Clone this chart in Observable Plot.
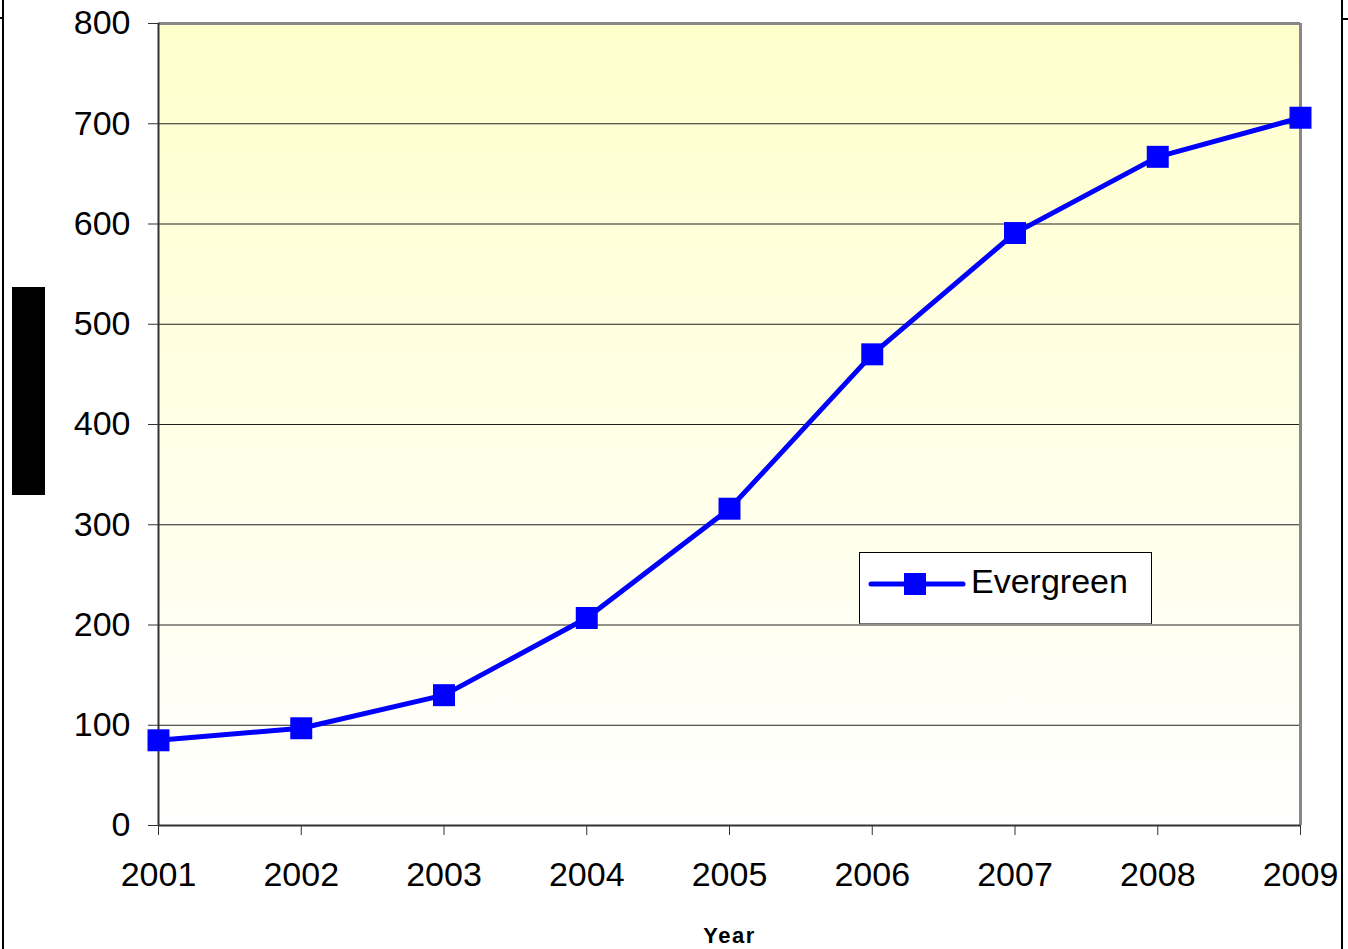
<!DOCTYPE html>
<html>
<head>
<meta charset="utf-8">
<script src="https://cdn.jsdelivr.net/npm/d3@7"></script>
<script src="https://cdn.jsdelivr.net/npm/@observablehq/plot@0.6"></script>
<style>
  body { margin: 0; background: #fff; }
  #wrap { position: relative; width: 1348px; height: 949px; overflow: hidden; font-family: "Liberation Sans", Arial, sans-serif; background: #fff; }
  #wrap svg.chart { position: absolute; left: 0; top: 0; }
  .vline { position: absolute; top: 0; width: 2px; height: 949px; background: #000; }
  .hmark { position: absolute; height: 2px; background: #000; }
  #redact { position: absolute; left: 12px; top: 287px; width: 33px; height: 208px; background: #000; }
  #legend { position: absolute; left: 859px; top: 552px; width: 291px; height: 70px; background: #fff; border: 1px solid #000; border-bottom-color: #777; }
  #legend svg { position: absolute; left: 0; top: 0; }
  #legend span { position: absolute; left: 111px; top: 8px; font-size: 34px; line-height: 40px; color: #000; }
</style>
</head>
<body>
<div id="wrap">
  <div class="vline" style="left:2px"></div>
  <div class="vline" style="left:1341px"></div>
  <div class="hmark" style="left:0;top:17px;width:3px"></div>
  <div class="hmark" style="left:1341px;top:18px;width:7px"></div>
  <div id="redact"></div>
</div>
<script>
const years = [2001, 2002, 2003, 2004, 2005, 2006, 2007, 2008, 2009];
const evergreen = [85, 97, 130, 207, 316, 470, 591, 667, 706];
const yTicks = [0, 100, 200, 300, 400, 500, 600, 700, 800];
const seriesName = "Evergreen";
const xLabel = "Year";

const data = years.map((year, i) => ({year, value: evergreen[i]}));
const font = "'Liberation Sans', Arial, sans-serif";

const chart = Plot.plot({
  width: 1348,
  height: 949,
  marginLeft: 158,
  marginRight: 48,
  marginTop: 23,
  marginBottom: 124,
  style: {fontFamily: font, fontSize: "34px", color: "#000", background: "transparent", overflow: "visible"},
  x: {type: "linear", domain: [years[0], years[years.length - 1]]},
  y: {type: "linear", domain: [yTicks[0], yTicks[yTicks.length - 1]]},
  marks: [
    Plot.frame({fill: "url(#plotBg)", stroke: "none"}),
    Plot.ruleY(yTicks.slice(1, -1), {stroke: "#222", strokeWidth: 1}),
    Plot.ruleY([yTicks[yTicks.length - 1]], {stroke: "#888", strokeWidth: 3}),
    Plot.ruleX([years[years.length - 1]], {stroke: "#888", strokeWidth: 3}),
    Plot.ruleY([yTicks[0]], {stroke: "#333", strokeWidth: 2}),
    Plot.ruleX([years[0]], {stroke: "#333", strokeWidth: 2}),
    Plot.axisY({ticks: yTicks, tickSize: 10, tickPadding: 18, tickFormat: d => String(d), label: null, stroke: "#333"}),
    Plot.axisX({ticks: years, tickSize: 10, tickPadding: 26, tickFormat: d => String(d), label: null, stroke: "#333"}),
    Plot.line(data, {x: "year", y: "value", stroke: "#0000ff", strokeWidth: 5}),
    Plot.dot(data, {x: "year", y: "value", symbol: "square", r: 12.4, fill: "#0000ff", stroke: "none"}),
    Plot.text([xLabel], {text: d => d, frameAnchor: "bottom", dy: 117, lineAnchor: "bottom", fontWeight: "bold", fontSize: 22, fill: "#000"})
  ]
});
chart.classList.add("chart");
d3.select(chart).insert("defs", ":first-child").html(
  '<linearGradient id="plotBg" x1="0" y1="0" x2="0" y2="1">' +
  '<stop offset="0" stop-color="#ffffcc"/><stop offset="1" stop-color="#ffffff"/></linearGradient>'
);
d3.select(chart).selectAll("text").filter(function () { return this.textContent === xLabel; })
  .style("letter-spacing", "1.5px");

const wrap = document.getElementById("wrap");
wrap.insertBefore(chart, wrap.firstChild);

// legend
const legend = document.createElement("div");
legend.id = "legend";
const ls = d3.create("svg").attr("width", 110).attr("height", 70);
ls.append("line").attr("x1", 11).attr("x2", 103).attr("y1", 31).attr("y2", 31)
  .attr("stroke", "#0000ff").attr("stroke-width", 5).attr("stroke-linecap", "round");
ls.append("rect").attr("x", 44).attr("y", 20).attr("width", 22).attr("height", 22).attr("fill", "#0000ff");
legend.appendChild(ls.node());
const lt = document.createElement("span");
lt.textContent = seriesName;
legend.appendChild(lt);
wrap.appendChild(legend);
</script>
</body>
</html>
